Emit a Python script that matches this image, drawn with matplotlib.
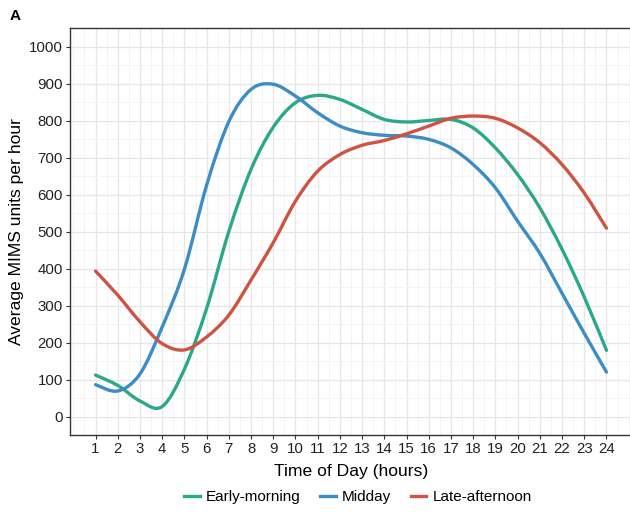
import numpy as np
import matplotlib
matplotlib.use("Agg")
import matplotlib.pyplot as plt
from matplotlib.ticker import MultipleLocator
from matplotlib.path import Path
from matplotlib.patches import PathPatch
from matplotlib.lines import Line2D

plt.rcParams['font.family'] = ['Liberation Sans', 'DejaVu Sans']

# datos (valor medio por hora)
horas = list(range(1, 25))
early_morning = [112, 84, 42, 27, 128, 292, 500, 668, 782, 848, 868, 857, 830, 803,
                 796, 800, 803, 780, 726, 654, 564, 452, 323, 179]
midday = [86, 69, 115, 242, 398, 625, 797, 884, 898, 866, 821, 785, 767, 760,
          758, 749, 726, 681, 618, 528, 441, 333, 225, 120]
late_afternoon = [393, 328, 256, 197, 180, 215, 274, 369, 470, 582, 663, 708, 733, 746,
                  764, 785, 806, 812, 806, 780, 740, 681, 604, 509]

series = ['Early-morning', 'Midday', 'Late-afternoon']
colores = ['#2AA889', '#3C8DC5', '#CF5342']
valores = [early_morning, midday, late_afternoon]


def trazo_suave(x, y):
    # curva Bezier (Catmull-Rom) que pasa por los puntos leidos
    p = np.column_stack([x, y]).astype(float)
    ext = np.vstack([p[0], p, p[-1]])
    verts = [p[0]]
    codes = [Path.MOVETO]
    for i in range(len(p) - 1):
        p0, p1, p2, p3 = ext[i], ext[i + 1], ext[i + 2], ext[i + 3]
        verts += [p1 + (p2 - p0) / 6, p2 - (p3 - p1) / 6, p2]
        codes += [Path.CURVE4] * 3
    return Path(verts, codes)


fig = plt.figure(figsize=(6.3, 5.12), dpi=100)
ax = fig.add_axes([70/630, 1-435/512, 562/630, 407/512])

handles = []
for nombre, col, v in zip(series, colores, valores):
    ax.add_patch(PathPatch(trazo_suave(horas, v), fill=False, edgecolor=col, lw=2.4,
                           capstyle='round', joinstyle='round'))
    handles.append(Line2D([], [], color=col, lw=2.4, label=nombre))

ax.set_xlim(-0.15, 25.15)
ax.set_ylim(-50, 1050)
ax.set_xticks(horas)
ax.set_yticks(range(0, 1001, 100))
ax.xaxis.set_minor_locator(MultipleLocator(0.5))
ax.yaxis.set_minor_locator(MultipleLocator(50))
ax.grid(which='major', color='#E6E6E6', lw=0.9)
ax.grid(which='minor', color='#F2F2F2', lw=0.6)
ax.set_axisbelow(True)
ax.tick_params(which='minor', length=0)
ax.tick_params(which='major', length=3, color='#333333', labelsize=10.8, labelcolor='#222222', pad=2)
for s in ax.spines.values():
    s.set_color('#333333')
    s.set_linewidth(1.0)

ax.set_xlabel('Time of Day (hours)', fontsize=12.6, labelpad=6)
ax.set_ylabel('Average MIMS units per hour', fontsize=12.6, labelpad=4)

fig.text(10/630, 1-16/512, 'A', fontsize=11, fontweight='bold', va='center', ha='left')

fig.legend(handles=handles, loc='center', bbox_to_anchor=(358/630, 1-497/512), ncol=3,
           frameon=False, fontsize=11, handlelength=1.0, handletextpad=0.4, columnspacing=1.3)

fig.savefig('out.png', dpi=100)
